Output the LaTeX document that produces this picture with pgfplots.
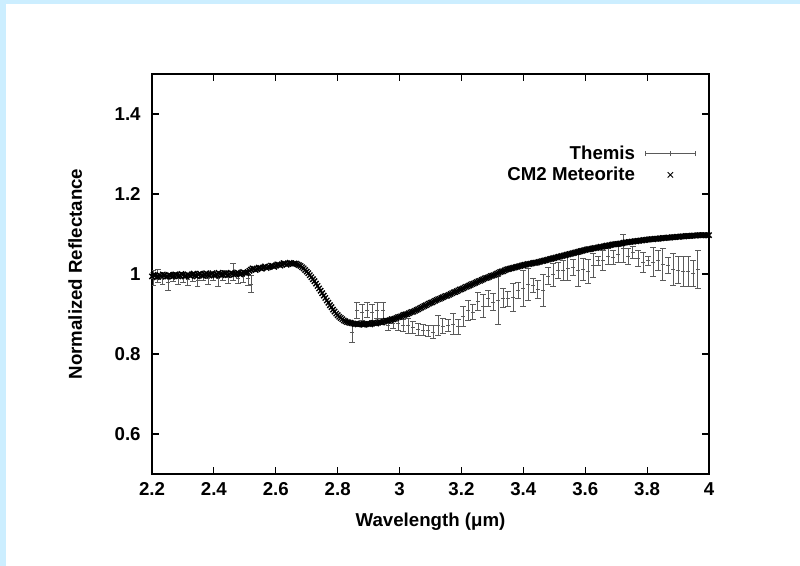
\documentclass[border=0pt]{standalone}
\usepackage{fontspec}
\setmainfont{Liberation Sans}
\usepackage{pgfplots}
\usepackage{pgfplotstable}
\pgfplotsset{compat=1.18}
\definecolor{bgblue}{HTML}{CCEEFF}
\definecolor{errgray}{HTML}{5A5A5A}
\pgfplotstableread{
x y e
2.203 0.990 0.018
2.219 0.995 0.017
2.235 0.990 0.015
2.252 0.980 0.022
2.268 0.993 0.012
2.284 0.988 0.015
2.300 0.992 0.012
2.316 0.987 0.015
2.332 0.993 0.012
2.348 0.985 0.017
2.365 0.995 0.012
2.381 0.990 0.015
2.397 0.995 0.010
2.413 0.988 0.018
2.429 0.997 0.012
2.446 0.992 0.015
2.462 1.005 0.022
2.478 0.990 0.013
2.494 0.993 0.015
2.510 0.990 0.018
2.520 0.975 0.022
2.846 0.855 0.025
2.862 0.908 0.020
2.879 0.905 0.020
2.895 0.910 0.018
2.911 0.905 0.020
2.927 0.908 0.020
2.947 0.910 0.020
2.963 0.872 0.013
2.979 0.877 0.013
2.995 0.877 0.017
3.011 0.871 0.015
3.027 0.871 0.019
3.043 0.867 0.015
3.060 0.862 0.015
3.076 0.860 0.013
3.092 0.858 0.013
3.108 0.855 0.017
3.124 0.872 0.025
3.140 0.870 0.018
3.157 0.871 0.015
3.173 0.875 0.027
3.189 0.868 0.018
3.205 0.893 0.025
3.221 0.908 0.025
3.237 0.905 0.018
3.253 0.932 0.023
3.270 0.920 0.028
3.286 0.940 0.020
3.302 0.930 0.022
3.318 0.933 0.060
3.334 0.940 0.023
3.350 0.938 0.018
3.367 0.942 0.035
3.383 0.960 0.020
3.399 0.964 0.045
3.415 0.975 0.040
3.431 0.972 0.018
3.447 0.962 0.022
3.464 0.958 0.040
3.480 0.995 0.022
3.496 0.998 0.028
3.512 1.010 0.020
3.528 1.010 0.025
3.544 1.014 0.030
3.561 1.017 0.020
3.577 1.008 0.040
3.593 1.012 0.027
3.609 1.006 0.030
3.625 1.022 0.030
3.641 1.033 0.012
3.657 1.035 0.025
3.674 1.045 0.020
3.690 1.042 0.018
3.706 1.048 0.020
3.722 1.065 0.035
3.738 1.043 0.020
3.754 1.053 0.015
3.771 1.040 0.020
3.787 1.030 0.025
3.803 1.033 0.012
3.819 1.030 0.037
3.835 1.035 0.025
3.851 1.025 0.040
3.868 1.022 0.020
3.884 1.012 0.040
3.900 1.010 0.033
3.916 1.006 0.037
3.932 1.006 0.037
3.948 1.002 0.033
3.964 1.012 0.048
}\themis
\pgfplotstableread{
x y
2.200 0.994
2.205 0.998
2.210 0.996
2.215 0.992
2.220 0.993
2.225 0.997
2.230 0.995
2.235 0.999
2.240 0.997
2.245 0.993
2.250 0.994
2.255 0.998
2.260 0.996
2.265 0.993
2.270 0.995
2.275 0.999
2.280 0.997
2.285 0.994
2.290 0.996
2.295 1.000
2.300 0.998
2.305 0.994
2.310 0.995
2.315 0.999
2.320 0.997
2.325 0.995
2.330 0.999
2.335 1.001
2.340 0.996
2.345 0.994
2.350 0.998
2.355 1.001
2.360 0.997
2.365 0.995
2.370 0.999
2.375 1.002
2.380 0.998
2.385 0.996
2.390 1.000
2.395 1.002
2.400 0.997
2.405 0.996
2.410 0.999
2.415 1.003
2.420 1.000
2.425 0.997
2.430 0.998
2.435 1.002
2.440 1.001
2.445 0.997
2.450 0.999
2.455 1.003
2.460 1.001
2.465 0.998
2.470 1.000
2.475 1.004
2.480 1.002
2.485 0.999
2.490 1.001
2.495 1.005
2.500 1.003
2.505 1.002
2.510 1.004
2.515 1.008
2.520 1.011
2.525 1.014
2.530 1.013
2.535 1.010
2.540 1.012
2.545 1.016
2.550 1.015
2.555 1.013
2.560 1.016
2.565 1.019
2.570 1.015
2.575 1.017
2.580 1.018
2.585 1.021
2.590 1.020
2.595 1.018
2.600 1.021
2.605 1.024
2.610 1.023
2.615 1.021
2.620 1.024
2.625 1.027
2.630 1.026
2.635 1.023
2.640 1.025
2.645 1.028
2.650 1.027
2.655 1.025
2.660 1.026
2.665 1.026
2.670 1.024
2.675 1.022
2.680 1.020
2.685 1.017
2.690 1.014
2.695 1.010
2.700 1.006
2.705 1.002
2.710 0.997
2.715 0.992
2.720 0.987
2.725 0.982
2.730 0.976
2.735 0.970
2.740 0.964
2.745 0.958
2.750 0.952
2.755 0.946
2.760 0.940
2.765 0.934
2.770 0.928
2.775 0.922
2.780 0.917
2.785 0.911
2.790 0.906
2.795 0.901
2.800 0.897
2.805 0.893
2.810 0.890
2.815 0.887
2.820 0.884
2.825 0.882
2.830 0.880
2.835 0.879
2.840 0.878
2.845 0.877
2.850 0.876
2.855 0.875
2.860 0.875
2.865 0.874
2.870 0.875
2.875 0.876
2.880 0.874
2.885 0.873
2.890 0.875
2.895 0.876
2.900 0.875
2.905 0.874
2.910 0.876
2.915 0.878
2.920 0.877
2.925 0.876
2.930 0.878
2.935 0.880
2.940 0.879
2.945 0.879
2.950 0.881
2.955 0.883
2.960 0.883
2.965 0.883
2.970 0.885
2.975 0.887
2.980 0.887
2.985 0.888
2.990 0.890
2.995 0.892
3.000 0.893
3.005 0.894
3.010 0.896
3.015 0.898
3.020 0.899
3.025 0.900
3.030 0.902
3.035 0.904
3.040 0.905
3.045 0.906
3.050 0.908
3.055 0.910
3.060 0.912
3.065 0.914
3.070 0.916
3.075 0.918
3.080 0.920
3.085 0.922
3.090 0.924
3.095 0.926
3.100 0.928
3.105 0.929
3.110 0.931
3.115 0.933
3.120 0.935
3.125 0.937
3.130 0.938
3.135 0.940
3.140 0.942
3.145 0.944
3.150 0.945
3.155 0.946
3.160 0.948
3.165 0.950
3.170 0.952
3.175 0.954
3.180 0.955
3.185 0.957
3.190 0.959
3.195 0.961
3.200 0.962
3.205 0.964
3.210 0.966
3.215 0.968
3.220 0.969
3.225 0.971
3.230 0.973
3.235 0.975
3.240 0.976
3.245 0.978
3.250 0.980
3.255 0.982
3.260 0.983
3.265 0.985
3.270 0.987
3.275 0.989
3.280 0.990
3.285 0.991
3.290 0.993
3.295 0.995
3.300 0.996
3.305 0.997
3.310 0.999
3.315 1.001
3.320 1.003
3.325 1.005
3.330 1.006
3.335 1.007
3.340 1.009
3.345 1.011
3.350 1.012
3.355 1.013
3.360 1.014
3.365 1.015
3.370 1.016
3.375 1.017
3.380 1.018
3.385 1.019
3.390 1.020
3.395 1.021
3.400 1.022
3.405 1.023
3.410 1.024
3.415 1.025
3.420 1.025
3.425 1.026
3.430 1.027
3.435 1.028
3.440 1.028
3.445 1.029
3.450 1.030
3.455 1.031
3.460 1.032
3.465 1.033
3.470 1.034
3.475 1.035
3.480 1.036
3.485 1.037
3.490 1.038
3.495 1.039
3.500 1.040
3.505 1.041
3.510 1.042
3.515 1.043
3.520 1.044
3.525 1.045
3.530 1.046
3.535 1.047
3.540 1.048
3.545 1.049
3.550 1.050
3.555 1.051
3.560 1.052
3.565 1.053
3.570 1.054
3.575 1.055
3.580 1.056
3.585 1.057
3.590 1.058
3.595 1.059
3.600 1.060
3.605 1.061
3.610 1.062
3.615 1.062
3.620 1.063
3.625 1.064
3.630 1.065
3.635 1.065
3.640 1.066
3.645 1.067
3.650 1.068
3.655 1.068
3.660 1.069
3.665 1.070
3.670 1.071
3.675 1.071
3.680 1.072
3.685 1.073
3.690 1.074
3.695 1.074
3.700 1.075
3.705 1.075
3.710 1.076
3.715 1.076
3.720 1.077
3.725 1.078
3.730 1.079
3.735 1.079
3.740 1.080
3.745 1.080
3.750 1.081
3.755 1.081
3.760 1.082
3.765 1.082
3.770 1.083
3.775 1.083
3.780 1.084
3.785 1.084
3.790 1.085
3.795 1.085
3.800 1.086
3.805 1.086
3.810 1.087
3.815 1.087
3.820 1.087
3.825 1.088
3.830 1.088
3.835 1.088
3.840 1.089
3.845 1.089
3.850 1.090
3.855 1.090
3.860 1.090
3.865 1.091
3.870 1.091
3.875 1.091
3.880 1.092
3.885 1.092
3.890 1.092
3.895 1.093
3.900 1.093
3.905 1.093
3.910 1.094
3.915 1.094
3.920 1.094
3.925 1.095
3.930 1.095
3.935 1.095
3.940 1.095
3.945 1.096
3.950 1.096
3.955 1.096
3.960 1.096
3.965 1.097
3.970 1.097
3.975 1.097
3.980 1.097
3.985 1.097
3.990 1.097
3.995 1.097
4.000 1.097
}\meteorite
\begin{document}
\begin{tikzpicture}
\fill[white] (0pt,0pt) rectangle (600pt,424.5pt);
\fill[bgblue] (0pt,0pt) rectangle (4.5pt,424.5pt);
\fill[bgblue] (0pt,421.5pt) rectangle (600pt,424.5pt);
\begin{axis}[
  at={(114pt,69pt)}, anchor=south west,
  width=417.75pt, height=300pt, scale only axis,
  xmin=2.2, xmax=4, ymin=0.5, ymax=1.5,
  xtick={2.2,2.4,2.6,2.8,3,3.2,3.4,3.6,3.8,4},
  ytick={0.6,0.8,1,1.2,1.4},
  minor tick num=0,
  tick align=inside,
  major tick length=5pt,
  axis line style={line width=1pt},
  every tick/.style={line width=0.8pt, black},
  /pgf/number format/assume math mode=true,
  tick label style={font=\bfseries\fontsize{14}{16}\selectfont},
  yticklabel style={xshift=-5pt},
  xticklabel style={yshift=-3pt},
  label style={font=\bfseries\fontsize{14}{16}\selectfont},
  xlabel={Wavelength (μm)},
  ylabel={Normalized Reflectance},
  xlabel style={at={(axis description cs:0.5,-0.12)}, anchor=center},
  ylabel style={at={(axis description cs:-0.138,0.5)}, anchor=center, rotate=0},
  legend cell align=right,
  legend plot pos=right,
  legend style={draw=none, fill=none, font=\bfseries\fontsize{14}{16}\selectfont,
    at={(0.985,0.835)}, anchor=north east, row sep=0.5pt},
]
\addplot[errgray, only marks, mark=+, mark size=1.5pt, line width=0.6pt,
  legend image code/.code={
    \path (-5pt,0pt);
    \draw[errgray, line width=0.6pt] (0pt,0pt)--(38pt,0pt)
      (0pt,-2pt)--(0pt,2pt) (19pt,-2pt)--(19pt,2pt) (38pt,-2pt)--(38pt,2pt);},
  error bars/.cd, y dir=both, y explicit,
  error bar style={line width=0.6pt, errgray},
  error mark options={rotate=90, mark size=2pt, errgray, line width=0.6pt}]
  table[x=x, y=y, y error=e] {\themis};
\addlegendentry{Themis}
\addplot[black, only marks, mark=x, mark size=2.8pt, line width=1pt,
  legend image code/.code={
    \path (-5pt,0pt) (38pt,0pt);
    \draw[black, line width=0.6pt] (17pt,-2pt)--(21pt,2pt) (17pt,2pt)--(21pt,-2pt);}]
  table[x=x, y=y] {\meteorite};
\addlegendentry{CM2 Meteorite}
\end{axis}
\end{tikzpicture}
\end{document}
